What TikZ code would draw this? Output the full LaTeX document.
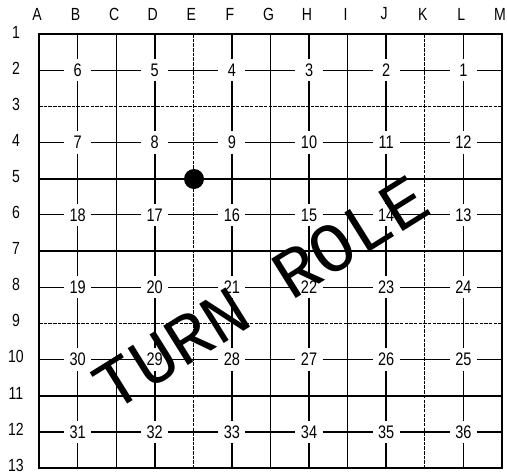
\documentclass[tikz,border=0pt]{standalone}
\usepackage{fontspec}
\setmainfont{Liberation Sans}[FakeStretch=0.8]
\newfontfamily\handfont{Liberation Mono}
\usepackage{tikz}
\usetikzlibrary{positioning, calc}
\tikzstyle{cell} = [inner sep=0pt, minimum width=0.8cm, minimum height=0.66cm, font=\fontsize{15.5}{15.5}\selectfont]
\tikzstyle{axis} = [inner sep=0pt, font=\fontsize{15}{15}\selectfont]
\tikzstyle{frame} = [line width=1.8pt]
\tikzstyle{heavy} = [line width=1.5pt]
\tikzstyle{major} = [line width=1.1pt]
\tikzstyle{minor} = [line width=0.7pt]
\tikzstyle{faint} = [line width=0.6pt, dash pattern=on 3pt off 1pt]

\begin{document}
\begin{tikzpicture}[x=0.03cm, y=-0.03cm]
    \useasboundingbox (0,0) rectangle (507,475);
    % letters and row numbers
    \foreach \c [count=\i from 0] in {A,...,M}
        \node[axis] (col\c) at ({37+38.58*\i},14) {\c};
    \foreach \r in {1,...,13}
        \node[axis] (row\r) at (16,{32+36.1*(\r-1)}) {\r};
    % numbered cells
    \foreach \k in {1,...,6}
        \foreach \c in {1,...,6} {
            \pgfmathtruncatemacro\n{isodd(\k) ? 6*(\k-1)+7-\c : 6*(\k-1)+\c}
            \node[cell] (n-\k-\c) at ({39+38.58*(2*\c-1)},{34+36.17*(2*\k-1)}) {\n};
        }
    \foreach \k in {1,...,6} {
        \coordinate (w\k) at (39,{34+36.17*(2*\k-1)});
        \coordinate (e\k) at (502,{34+36.17*(2*\k-1)});
        \coordinate (t\k) at ({39+38.58*(2*\k-1)},34);
        \coordinate (b\k) at ({39+38.58*(2*\k-1)},468);
    }
    % full lines between numbered rows and columns
    \foreach \j/\s in {1/faint, 2/heavy, 3/heavy, 4/faint, 5/heavy}
        \draw[\s] (39,{34+36.17*2*\j}) -- (502,{34+36.17*2*\j});
    \foreach \j/\s in {1/minor, 2/faint, 3/minor, 4/minor, 5/faint}
        \draw[\s] ({39+38.58*2*\j},34) -- ({39+38.58*2*\j},468);
    % broken lines through the numbers
    \foreach \k in {1,...,6} {
        \draw[major] (w\k) -- (n-\k-1);
        \foreach \c [evaluate=\c as \d using int(\c+1)] in {1,...,5}
            \draw[major] (n-\k-\c) -- (n-\k-\d);
        \draw[major] (n-\k-6) -- (e\k);
    }
    \foreach \c/\w in {1/0.8pt, 2/1.4pt, 3/1.4pt, 4/1.1pt, 5/1.4pt, 6/1.1pt} {
        \draw[line width=\w] (t\c) -- (n-1-\c);
        \foreach \k [evaluate=\k as \d using int(\k+1)] in {1,...,5}
            \draw[line width=\w] (n-\k-\c) -- (n-\d-\c);
        \draw[line width=\w] (n-6-\c) -- (b\c);
    }
    \draw[frame] (39,34) rectangle (502,468);
    \node[circle, fill, inner sep=0pt, minimum size=0.6cm] (stone) at (194,179) {};
    \node[rotate=32, font=\handfont\fontsize{60}{60}\selectfont] (scrawl) at (261,293) {TURN ROLE};
\end{tikzpicture}
\end{document}
